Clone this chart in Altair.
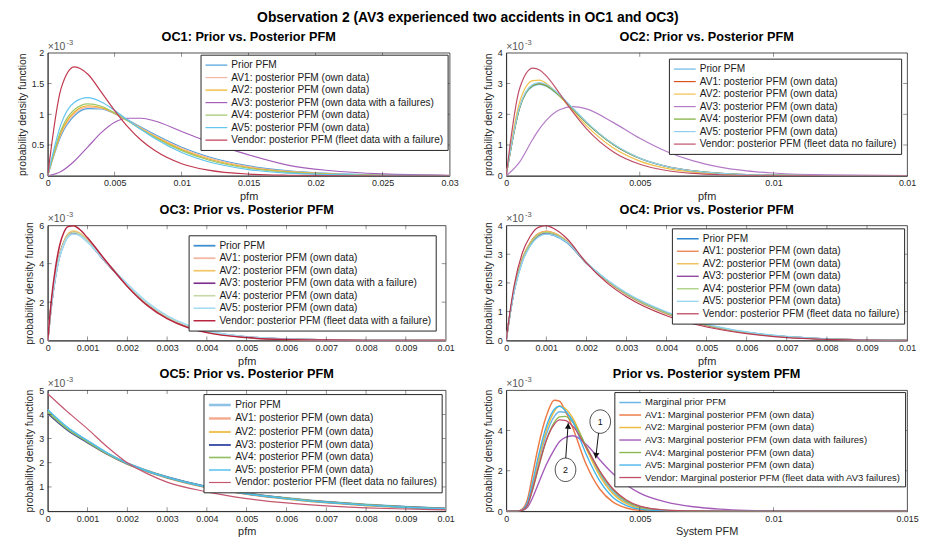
import altair as alt
import pandas as pd

FONT = "Liberation Sans, Arial, Helvetica, sans-serif"
INK = "#262626"

# ---------------- OC1 ----------------
oc1_x = [0, 0.001, 0.002, 0.003, 0.004, 0.005, 0.006, 0.007, 0.008, 0.010, 0.012, 0.015, 0.018, 0.021, 0.025, 0.03]
oc1_prior = [0, .655, .977, 1.092, 1.085, 1.010, .904, .786, .669, .464, .309, .160, .080, .038, .014, .004]
oc1_av1 = [0, .681, 1.006, 1.115, 1.098, 1.014, .898, .774, .654, .446, .292, .147, .071, .033, .012, .003]
oc1_av2 = [0, .708, 1.037, 1.138, 1.110, 1.015, .891, .761, .636, .425, .273, .134, .063, .029, .010, .002]
oc1_av3 = [0, .07, .24, .47, .70, .87, .935, .935, .89, .72, .55, .34, .17, .085, .03, .008]
oc1_av4 = [0, .743, 1.076, 1.169, 1.129, 1.022, .889, .751, .622, .408, .256, .122, .056, .025, .008, .002]
oc1_av5 = [0, .843, 1.195, 1.269, 1.199, 1.062, .902, .746, .604, .378, .228, .101, .043, .018, .005, .001]
oc1_vendor = [0, 1.42, 1.77, 1.65, 1.36, 1.06, .79, .572, .41, .196, .091, .027, .008, .002, 0, 0]
oc1_labels = ["Prior PFM", "AV1: posterior PFM (own data)", "AV2: posterior PFM (own data)",
              "AV3: posterior PFM (own data with a failures)", "AV4: posterior PFM (own data)",
              "AV5: posterior PFM (own data)", "Vendor: posterior PFM (fleet data with a failure)"]
oc1_colors = ["#4a9fdc", "#f5b7a5", "#edb120", "#a55fba", "#9cc76a", "#5fc4ef", "#c0394f"]
oc1_widths = [1.2, 1.2, 1.8, 1.2, 1.5, 1.2, 1.2]
oc1_xticks = [0, 0.005, 0.01, 0.015, 0.02, 0.025, 0.03]
oc1_yticks = [0, 0.5, 1, 1.5, 2]

# ---------------- OC2 ----------------
oc2_x = [0, .0005, .001, .00125, .0015, .002, .0025, .003, .004, .005, .006, .007, .008, .009, .010, .012, .015]
oc2_prior = [0, 2.186, 2.911, 2.97, 2.908, 2.582, 2.150, 1.718, 1.016, .563, .300, .155, .079, .039, .019, .004, 0]
oc2_av1 = [0, 2.208, 2.941, 3.00, 2.937, 2.608, 2.171, 1.736, 1.026, .569, .303, .157, .080, .040, .020, .005, 0]
oc2_av2 = [0, 2.387, 3.091, 3.109, 3.002, 2.591, 2.097, 1.630, .910, .477, .240, .117, .056, .027, .012, .002, 0]
oc2_av3 = [0, .446, 1.195, 1.529, 1.803, 2.148, 2.25, 2.172, 1.735, 1.218, .788, .482, .283, .161, .089, .026, .004]
oc2_av4 = [0, 2.200, 2.931, 2.99, 2.928, 2.600, 2.164, 1.730, 1.023, .567, .302, .156, .079, .039, .019, .004, 0]
oc2_av5 = [0, 2.230, 2.970, 3.03, 2.967, 2.634, 2.193, 1.753, 1.037, .574, .306, .158, .080, .040, .020, .005, 0]
oc2_vendor = [0, 2.828, 3.497, 3.438, 3.244, 2.674, 2.067, 1.534, .782, .374, .171, .076, .033, .014, .006, .001, 0]
oc2_labels = ["Prior PFM", "AV1: posterior PFM (own data)", "AV2: posterior PFM (own data)",
              "AV3: posterior PFM (own data)", "AV4: posterior PFM (own data)",
              "AV5: posterior PFM (own data)", "Vendor: posterior PFM (fleet data no failure)"]
oc2_colors = ["#6bb8e6", "#d95319", "#f2c04c", "#b47cc7", "#77ac30", "#8fd0f0", "#c0506a"]
oc2_widths = [1.2, 1.2, 1.2, 1.2, 1.5, 1.5, 1.5]
oc2_xticks = [0, 0.005, 0.01, 0.015]
oc2_yticks = [0, 1, 2, 3, 4]

# ---------------- OC3 ----------------
oc3_x = [0, .0001, .0002, .0003, .0004, .0005, .00065, .0008, .001, .0015, .002, .0025, .003, .0035, .004, .005, .006, .007, .008, .01]
oc3_prior = [0, 1.98, 3.4, 4.4, 5.0, 5.4, 5.58, 5.5, 5.15, 4.0, 2.9, 1.95, 1.25, .78, .48, .18, .07, .03, .01, 0]
oc3_av1 = [0, 2.0, 3.45, 4.46, 5.07, 5.47, 5.65, 5.56, 5.2, 4.02, 2.9, 1.93, 1.23, .76, .46, .17, .065, .025, .01, 0]
oc3_av2 = [0, 2.03, 3.5, 4.5, 5.12, 5.52, 5.70, 5.6, 5.22, 4.03, 2.9, 1.92, 1.22, .75, .45, .17, .06, .025, .01, 0]
oc3_av3 = [0, 2.0, 3.44, 4.45, 5.06, 5.46, 5.62, 5.53, 5.17, 4.0, 2.9, 1.94, 1.24, .77, .47, .18, .07, .03, .01, 0]
oc3_av4 = [0, 2.0, 3.45, 4.46, 5.07, 5.47, 5.64, 5.55, 5.18, 4.01, 2.9, 1.94, 1.24, .77, .47, .18, .07, .03, .01, 0]
oc3_av5 = [0, 1.96, 3.37, 4.36, 4.97, 5.37, 5.55, 5.47, 5.13, 4.02, 2.95, 2.0, 1.3, .82, .51, .2, .08, .035, .012, 0]
oc3_vendor = [0, 2.25, 3.85, 4.95, 5.6, 5.92, 5.98, 5.8, 5.35, 4.05, 2.82, 1.83, 1.14, .69, .41, .15, .05, .02, .006, 0]
oc3_labels = ["Prior PFM", "AV1: posterior PFM (own data)", "AV2: posterior PFM (own data)",
              "AV3: posterior PFM (own data with a failure)", "AV4: posterior PFM (own data)",
              "AV5: posterior PFM (own data)", "Vendor: posterior PFM (fleet data with a failure)"]
oc3_colors = ["#3d8fd1", "#f4b6a0", "#f2c566", "#7e2f8e", "#c5d9a8", "#a4dcf4", "#b8233f"]
oc3_widths = [1.8, 1.5, 1.5, 1.2, 1.5, 1.2, 1.2]
oc3_xticks = [0, 0.001, 0.002, 0.003, 0.004, 0.005, 0.006, 0.007, 0.008, 0.009, 0.01]
oc3_yticks = [0, 2, 4, 6]

# ---------------- OC4 ----------------
oc4_x = [0, .0001, .0002, .0004, .0006, .0008, .001, .0012, .0015, .002, .0025, .003, .004, .005, .006, .007, .008, .009, .01]
oc4_prior = [0, .95, 1.73, 2.75, 3.31, 3.62, 3.71, 3.65, 3.42, 2.69, 2.10, 1.62, .96, .54, .28, .13, .055, .02, .008]
oc4_av1 = [0, .97, 1.78, 2.83, 3.40, 3.71, 3.80, 3.73, 3.47, 2.70, 2.08, 1.59, .93, .52, .27, .12, .05, .02, .007]
oc4_av2 = [0, .97, 1.77, 2.82, 3.39, 3.70, 3.79, 3.72, 3.46, 2.70, 2.09, 1.60, .94, .52, .27, .12, .05, .02, .007]
oc4_av3 = [0, .95, 1.74, 2.77, 3.34, 3.65, 3.74, 3.68, 3.44, 2.69, 2.10, 1.61, .95, .53, .28, .13, .055, .02, .008]
oc4_av4 = [0, .96, 1.75, 2.79, 3.36, 3.67, 3.76, 3.70, 3.45, 2.70, 2.10, 1.61, .95, .53, .28, .13, .055, .02, .008]
oc4_av5 = [0, .93, 1.70, 2.72, 3.29, 3.60, 3.70, 3.65, 3.43, 2.71, 2.13, 1.66, 1.0, .57, .30, .14, .06, .025, .01]
oc4_vendor = [0, 1.05, 1.92, 3.03, 3.62, 3.93, 3.99, 3.88, 3.56, 2.70, 2.02, 1.52, .86, .47, .24, .10, .04, .015, .005]
oc4_labels = ["Prior PFM", "AV1: posterior PFM (own data)", "AV2: posterior PFM (own data)",
              "AV3: posterior PFM (own data)", "AV4: posterior PFM (own data)",
              "AV5: posterior PFM (own data)", "Vendor: posterior PFM (fleet data no failure)"]
oc4_colors = ["#2f86cf", "#ec8a5f", "#f0bd55", "#8b3f9b", "#a6cf7c", "#8fd3f2", "#b83a55"]
oc4_widths = [1.5, 1.2, 1.2, 1.2, 1.5, 2.6, 1.2]
oc4_xticks = [0, 0.001, 0.002, 0.003, 0.004, 0.005, 0.006, 0.007, 0.008, 0.009, 0.01]
oc4_yticks = [0, 1, 2, 3, 4]

# ---------------- OC5 ----------------
oc5_x = [0, .0005, .001, .0015, .002, .0025, .003, .004, .005, .006, .007, .008, .009, .01]
oc5_prior = [4.1, 3.4, 2.88, 2.38, 1.97, 1.66, 1.4, 1.0, .73, .53, .38, .26, .17, .1]
oc5_av1 = [4.05, 3.37, 2.85, 2.36, 1.96, 1.65, 1.39, .99, .72, .52, .37, .25, .16, .09]
oc5_av2 = [4.08, 3.38, 2.86, 2.37, 1.96, 1.65, 1.39, .99, .72, .52, .37, .25, .16, .09]
oc5_av3 = [4.05, 3.35, 2.84, 2.36, 1.96, 1.65, 1.4, 1.0, .73, .53, .38, .26, .17, .1]
oc5_av4 = [4.1, 3.39, 2.87, 2.37, 1.97, 1.66, 1.4, 1.0, .73, .53, .38, .26, .17, .1]
oc5_av5 = [4.2, 3.46, 2.92, 2.4, 1.98, 1.66, 1.4, 1.0, .72, .52, .37, .25, .16, .09]
oc5_vendor = [4.85, 4.1, 3.4, 2.65, 2.0, 1.55, 1.2, .8, .52, .34, .22, .14, .09, .05]
oc5_labels = ["Prior PFM", "AV1: posterior PFM (own data)", "AV2: posterior PFM (own data)",
              "AV3: posterior PFM (own data)", "AV4: posterior PFM (own data)",
              "AV5: posterior PFM (own data)", "Vendor: posterior PFM (fleet data no failures)"]
oc5_colors = ["#8fc3e6", "#f3a88b", "#f0c35c", "#3b4fa8", "#93bf63", "#4dbeee", "#c4566f"]
oc5_widths = [2.6, 1.2, 1.2, 1.2, 1.2, 1.2, 1.5]
oc5_xticks = [0, 0.001, 0.002, 0.003, 0.004, 0.005, 0.006, 0.007, 0.008, 0.009, 0.01]
oc5_yticks = [0, 1, 2, 3, 4, 5]

# ---------------- System ----------------
sys_x = [0, .0004, .0006, .0008, .001, .0012, .0015, .0018, .002, .0022, .0025, .003, .0035, .004, .0045, .005, .006, .007, .008, .009, .01, .015]
sys_prior = [0, 0, .05, .38, 1.3, 2.4, 3.8, 4.7, 4.93, 4.9, 4.5, 3.15, 1.85, .95, .43, .18, .03, .004, 0, 0, 0, 0]
sys_av1 = [0, 0, .1, .6, 1.9, 3.2, 4.7, 5.5, 5.45, 5.0, 4.1, 2.3, 1.1, .45, .16, .05, .005, 0, 0, 0, 0, 0]
sys_av2 = [0, 0, .06, .4, 1.35, 2.5, 4.0, 4.95, 5.22, 5.1, 4.6, 3.1, 1.75, .85, .37, .14, .02, 0, 0, 0, 0, 0]
sys_av3 = [0, 0, .03, .2, .7, 1.35, 2.3, 3.05, 3.45, 3.65, 3.74, 3.3, 2.55, 1.85, 1.3, .9, .45, .22, .1, .04, .015, 0]
sys_av4 = [0, 0, .04, .3, 1.1, 2.1, 3.5, 4.4, 4.67, 4.7, 4.4, 3.2, 1.95, 1.05, .5, .22, .04, .005, 0, 0, 0, 0]
sys_av5 = [0, 0, .07, .45, 1.5, 2.7, 4.2, 5.05, 5.2, 5.0, 4.4, 2.8, 1.5, .68, .28, .1, .012, 0, 0, 0, 0, 0]
sys_vendor = [0, 0, .05, .32, 1.15, 2.15, 3.5, 4.3, 4.52, 4.5, 4.2, 3.15, 2.0, 1.1, .55, .25, .05, .008, 0, 0, 0, 0]
sys_labels = ["Marginal prior PFM", "AV1: Marginal posterior PFM (own data)", "AV2: Marginal posterior PFM (own data)",
              "AV3: Marginal posterior PFM (own data with failures)", "AV4: Marginal posterior PFM (own data)",
              "AV5: Marginal posterior PFM (own data)", "Vendor: Marginal posterior PFM (fleet data with AV3 failures)"]
sys_colors = ["#6cb6e6", "#ec7a45", "#efbb3d", "#a45cb9", "#88b84f", "#3fb3ec", "#c04d68"]
sys_widths = [1.5, 1.3, 1.3, 1.3, 1.3, 1.3, 1.5]
sys_xticks = [0, 0.005, 0.01, 0.015]
sys_yticks = [0, 2, 4, 6]

# annotation callouts on the system panel (data coordinates)
ann_cx = [0.00352, 0.00222]
ann_cy = [4.44, 2.05]
ann_txt = ["1", "2"]
arr_x1 = [0.00347, 0.00222]
arr_y1 = [4.03, 2.46]
arr_x2 = [0.00335, 0.00232]
arr_y2 = [2.62, 4.36]
head_x = [0.00336, 0.00232]
head_y = [2.76, 4.22]
head_shape = ["triangle-down", "triangle-up"]
head_angle = [7, 4]

YTITLE = "probability density function"
ELLIPSE = "M -0.88 0 A 0.88 1 0 1 1 0.88 0 A 0.88 1 0 1 1 -0.88 0 Z"
LEGEND_LINE = "M -1 0 L 3 0"


def panel(title, x, series, labels, colors, widths, xticks, yticks, xtitle, w, h, loff,
          lfont=10.2, annotate=False):
    rows = []
    for lab, ys in zip(labels, series):
        for xv, yv in zip(x, ys):
            rows.append({"x": xv, "y": yv, "s": lab})
    df = pd.DataFrame(rows)
    X = alt.X("x:Q", scale=alt.Scale(domain=[xticks[0], xticks[-1]], nice=False, zero=False),
              axis=alt.Axis(values=xticks, format="~g", title=xtitle, titleFontWeight="normal",
                            titleFontSize=11, labelFontSize=9, labelFlush=False, labelOverlap=False,
                            ticks=False, labelPadding=3, titlePadding=3))
    Y = alt.Y("y:Q", scale=alt.Scale(domain=[yticks[0], yticks[-1]], nice=False, zero=False),
              axis=alt.Axis(values=yticks, format="~g", title=YTITLE, titleFontWeight="normal",
                            titleFontSize=10.5, labelFontSize=9, labelFlush=False,
                            ticks=False, labelPadding=4, titlePadding=4))
    lines = alt.Chart(df).mark_line(interpolate="monotone", clip=True).encode(
        x=X, y=Y,
        color=alt.Color("s:N", scale=alt.Scale(domain=labels, range=colors),
                        legend=alt.Legend(title=None, orient="top-right", offset=loff,
                                          labelLimit=600, symbolType=LEGEND_LINE, symbolSize=121,
                                          symbolStrokeWidth=1.5, labelFontSize=lfont, labelFont=FONT,
                                          labelColor="#1a1a1a", labelOffset=14,
                                          strokeColor=INK, fillColor="white", padding=4,
                                          rowPadding=0.6)),
        strokeWidth=alt.StrokeWidth("s:N", scale=alt.Scale(domain=labels, range=widths), legend=None),
    )
    xt = pd.DataFrame({"x": xticks[1:-1]})
    yt = pd.DataFrame({"y": yticks[1:-1]})
    tk = dict(size=4, thickness=0.7, color=INK)
    t_bot = alt.Chart(xt).mark_tick(**tk).encode(x=X, y=alt.value(h - 2))
    t_top = alt.Chart(xt).mark_tick(**tk).encode(x=X, y=alt.value(2))
    t_left = alt.Chart(yt).mark_tick(**tk).encode(y=Y, x=alt.value(2))
    t_right = alt.Chart(yt).mark_tick(**tk).encode(y=Y, x=alt.value(w - 2))
    e1 = alt.Chart(pd.DataFrame({"t": ["\u00d710"]})).mark_text(
        align="left", baseline="alphabetic", fontSize=10.5, font=FONT, color="#555555"
    ).encode(x=alt.value(0), y=alt.value(-3), text="t:N")
    e2 = alt.Chart(pd.DataFrame({"t": ["-3"]})).mark_text(
        align="left", baseline="alphabetic", fontSize=7.5, font=FONT, color="#555555"
    ).encode(x=alt.value(19), y=alt.value(-8), text="t:N")
    layers = [lines, t_bot, t_top, t_left, t_right, e1, e2]
    if annotate:
        adf = pd.DataFrame({"x1": arr_x1, "y1": arr_y1, "x2": arr_x2, "y2": arr_y2})
        arrows = alt.Chart(adf).mark_rule(color="#111111", strokeWidth=1).encode(
            x=alt.X("x1:Q"), y=alt.Y("y1:Q"), x2="x2:Q", y2="y2:Q")
        hdf = pd.DataFrame({"x": head_x, "y": head_y, "sh": head_shape, "a": head_angle})
        heads = alt.Chart(hdf).mark_point(filled=True, color="#111111", size=40, opacity=1).encode(
            x="x:Q", y="y:Q", shape=alt.Shape("sh:N", scale=None), angle=alt.Angle("a:Q", scale=None))
        cdf = pd.DataFrame({"x": ann_cx, "y": ann_cy, "t": ann_txt})
        circ = alt.Chart(cdf).mark_point(shape=ELLIPSE, filled=True, fill="white", stroke="#222222",
                                         strokeWidth=0.8, size=560, opacity=1).encode(x="x:Q", y="y:Q")
        ctext = alt.Chart(cdf).mark_text(fontSize=9, font=FONT, color="#111111").encode(
            x="x:Q", y="y:Q", text="t:N")
        layers += [arrows, heads, circ, ctext]
    return alt.layer(*layers).properties(
        width=w, height=h,
        title=alt.TitleParams(title, fontSize=12.8, fontWeight="bold", font=FONT, color="#000000",
                              anchor="middle", frame="group", offset=0, dy=5),
    )


p1 = panel("OC1: Prior vs. Posterior PFM", oc1_x,
           [oc1_prior, oc1_av1, oc1_av2, oc1_av3, oc1_av4, oc1_av5, oc1_vendor],
           oc1_labels, oc1_colors, oc1_widths, oc1_xticks, oc1_yticks, "pfm", 405, 124, 2)
p2 = panel("OC2: Prior vs. Posterior PFM", oc2_x,
           [oc2_prior, oc2_av1, oc2_av2, oc2_av3, oc2_av4, oc2_av5, oc2_vendor],
           oc2_labels, oc2_colors, oc2_widths, oc2_xticks, oc2_yticks, "pfm", 404, 124, 6)
p3 = panel("OC3: Prior vs. Posterior PFM", oc3_x,
           [oc3_prior, oc3_av1, oc3_av2, oc3_av3, oc3_av4, oc3_av5, oc3_vendor],
           oc3_labels, oc3_colors, oc3_widths, oc3_xticks, oc3_yticks, "pfm", 401, 116, 10)
p4 = panel("OC4: Prior vs. Posterior PFM", oc4_x,
           [oc4_prior, oc4_av1, oc4_av2, oc4_av3, oc4_av4, oc4_av5, oc4_vendor],
           oc4_labels, oc4_colors, oc4_widths, oc4_xticks, oc4_yticks, "pfm", 404, 116, 3)
p5 = panel("OC5: Prior vs. Posterior PFM", oc5_x,
           [oc5_prior, oc5_av1, oc5_av2, oc5_av3, oc5_av4, oc5_av5, oc5_vendor],
           oc5_labels, oc5_colors, oc5_widths, oc5_xticks, oc5_yticks, "pfm", 401, 122, 4)
p6 = panel("Prior vs. Posterior system PFM", sys_x,
           [sys_prior, sys_av1, sys_av2, sys_av3, sys_av4, sys_av5, sys_vendor],
           sys_labels, sys_colors, sys_widths, sys_xticks, sys_yticks, "System PFM", 404, 122, 2,
           lfont=9.6, annotate=True)

chart = alt.concat(
    p1, p2, p3, p4, p5, p6, columns=2, spacing={"row": 50, "column": 57}, bounds="flush"
).resolve_scale(
    color="independent", strokeWidth="independent", x="independent", y="independent"
).resolve_legend(color="independent").properties(
    title=alt.TitleParams("Observation 2 (AV3 experienced two accidents in OC1 and OC3)",
                          fontSize=14, fontWeight="bold", font=FONT, color="#000000",
                          anchor="middle", offset=6),
    padding={"left": 9, "top": 0, "right": 0, "bottom": 0},
    background="white",
).configure_view(stroke=INK, strokeWidth=0.8).configure_axis(
    labelFont=FONT, labelFontSize=9, labelColor=INK,
    titleFont=FONT, titleFontSize=10.5, titleFontWeight="normal", titleColor=INK,
    domainColor=INK, domainWidth=0.8, ticks=False, grid=False,
)

chart.save("out.html", embed_options={"renderer": "svg", "actions": False})
